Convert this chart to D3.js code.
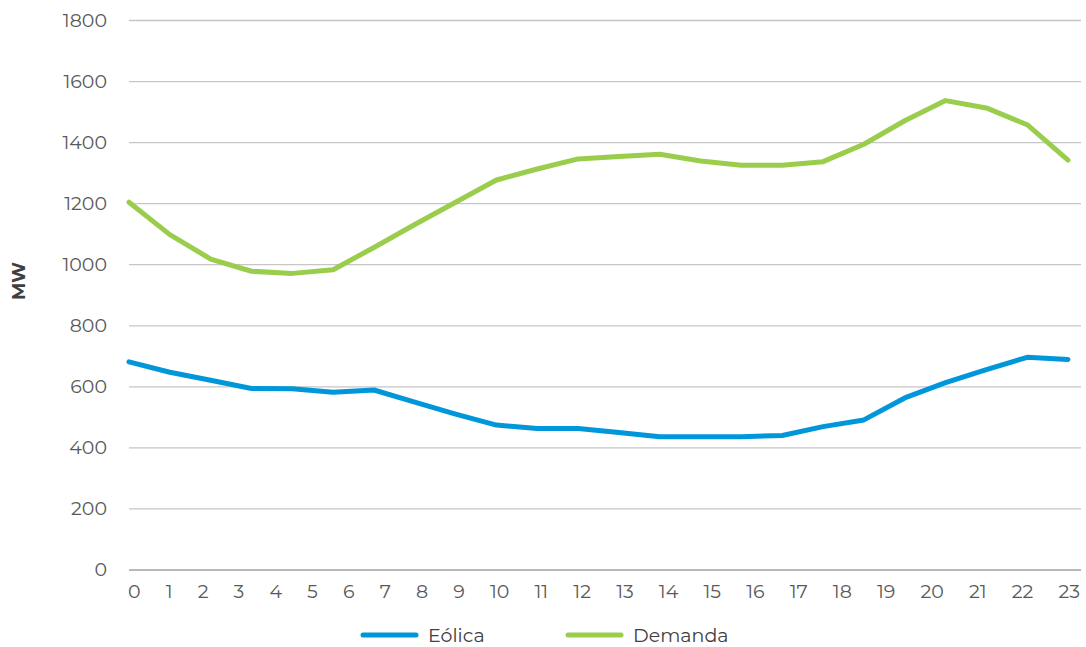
<!DOCTYPE html>
<html>
<head>
<meta charset="utf-8">
<script src="https://cdn.jsdelivr.net/npm/d3@7"></script>
<style>
  body { margin: 0; background: #fff; }
  text { font-family: "Montserrat", "Open Sans", "Noto Sans", sans-serif; }
</style>
</head>
<body>
<div id="stage"></div>
<script>
const hours = d3.range(0, 24).map(String);
const eolica = [680, 646, 620, 593, 592, 581, 588, 548, 509, 473, 462, 462, 449, 435, 435, 435, 439, 468, 490, 562, 612, 655, 695, 688];
const demanda = [1203, 1097, 1017, 977, 970, 982, 1055, 1130, 1203, 1276, 1312, 1345, 1353, 1360, 1338, 1324, 1324, 1336, 1393, 1470, 1536, 1512, 1457, 1341];
const yTicks = [0, 200, 400, 600, 800, 1000, 1200, 1400, 1600, 1800];
const series = [
  { name: 'Eólica', values: eolica, color: '#0097DA' },
  { name: 'Demanda', values: demanda, color: '#9ACD4C' }
];

const width = 1086, height = 647;
const plot = { left: 129, right: 1081, top: 20, bottom: 569.5 };

const svg = d3.select('#stage').append('svg')
  .attr('width', width)
  .attr('height', height);

const x = d3.scalePoint().domain(hours).range([129, 1068]);
const y = d3.scaleLinear().domain([0, 1800]).range([plot.bottom, plot.top]);

// grid + y labels
const yAxis = svg.append('g')
  .attr('transform', `translate(${plot.left},0)`)
  .call(d3.axisLeft(y).tickValues(yTicks).tickFormat(d3.format('d'))
    .tickSize(-(plot.right - plot.left)).tickPadding(22));
yAxis.select('.domain').remove();
yAxis.selectAll('.tick line')
  .attr('stroke', d => d === 0 ? '#a0a0a0' : '#c6c6c6')
  .attr('stroke-width', 1.3);
yAxis.selectAll('.tick text')
  .attr('fill', '#595959')
  .style('font-size', '19px');

// x labels: spread like justified text between plot edges
const xg = svg.append('g');
const xl = xg.selectAll('text').data(hours).join('text')
  .attr('y', 598)
  .attr('fill', '#595959')
  .style('font-size', '19px')
  .text(d => d);
const widths = xl.nodes().map(n => n.getComputedTextLength());
const x0 = 128, x1 = 1080;
const gap = (x1 - x0 - d3.sum(widths)) / (hours.length - 1);
let cursor = x0;
xl.each(function (d, i) {
  d3.select(this).attr('x', cursor);
  cursor += widths[i] + gap;
});

// lines
const line = d3.line()
  .x((d, i) => x(hours[i]))
  .y(d => y(d));

svg.selectAll('.series').data(series).join('path')
  .attr('class', 'series')
  .attr('d', d => line(d.values))
  .attr('fill', 'none')
  .attr('stroke', d => d.color)
  .attr('stroke-width', 5)
  .attr('stroke-linejoin', 'round')
  .attr('stroke-linecap', 'round');

// y title
svg.append('text')
  .attr('transform', 'translate(25,281) rotate(-90)')
  .attr('text-anchor', 'middle')
  .attr('fill', '#404040')
  .style('font-size', '18px')
  .style('font-weight', 'bold')
  .text('MW');

// legend
const legend = svg.append('g');
const lx = [363, 568];
const items = legend.selectAll('g').data(series).join('g')
  .attr('transform', (d, i) => `translate(${lx[i]},635)`);
items.append('line')
  .attr('x1', 0).attr('x2', 53)
  .attr('stroke', d => d.color)
  .attr('stroke-width', 5)
  .attr('stroke-linecap', 'round');
items.append('text')
  .attr('x', 65)
  .attr('y', 7)
  .attr('fill', '#404040')
  .style('font-size', '19px')
  .text(d => d.name);
</script>
</body>
</html>
